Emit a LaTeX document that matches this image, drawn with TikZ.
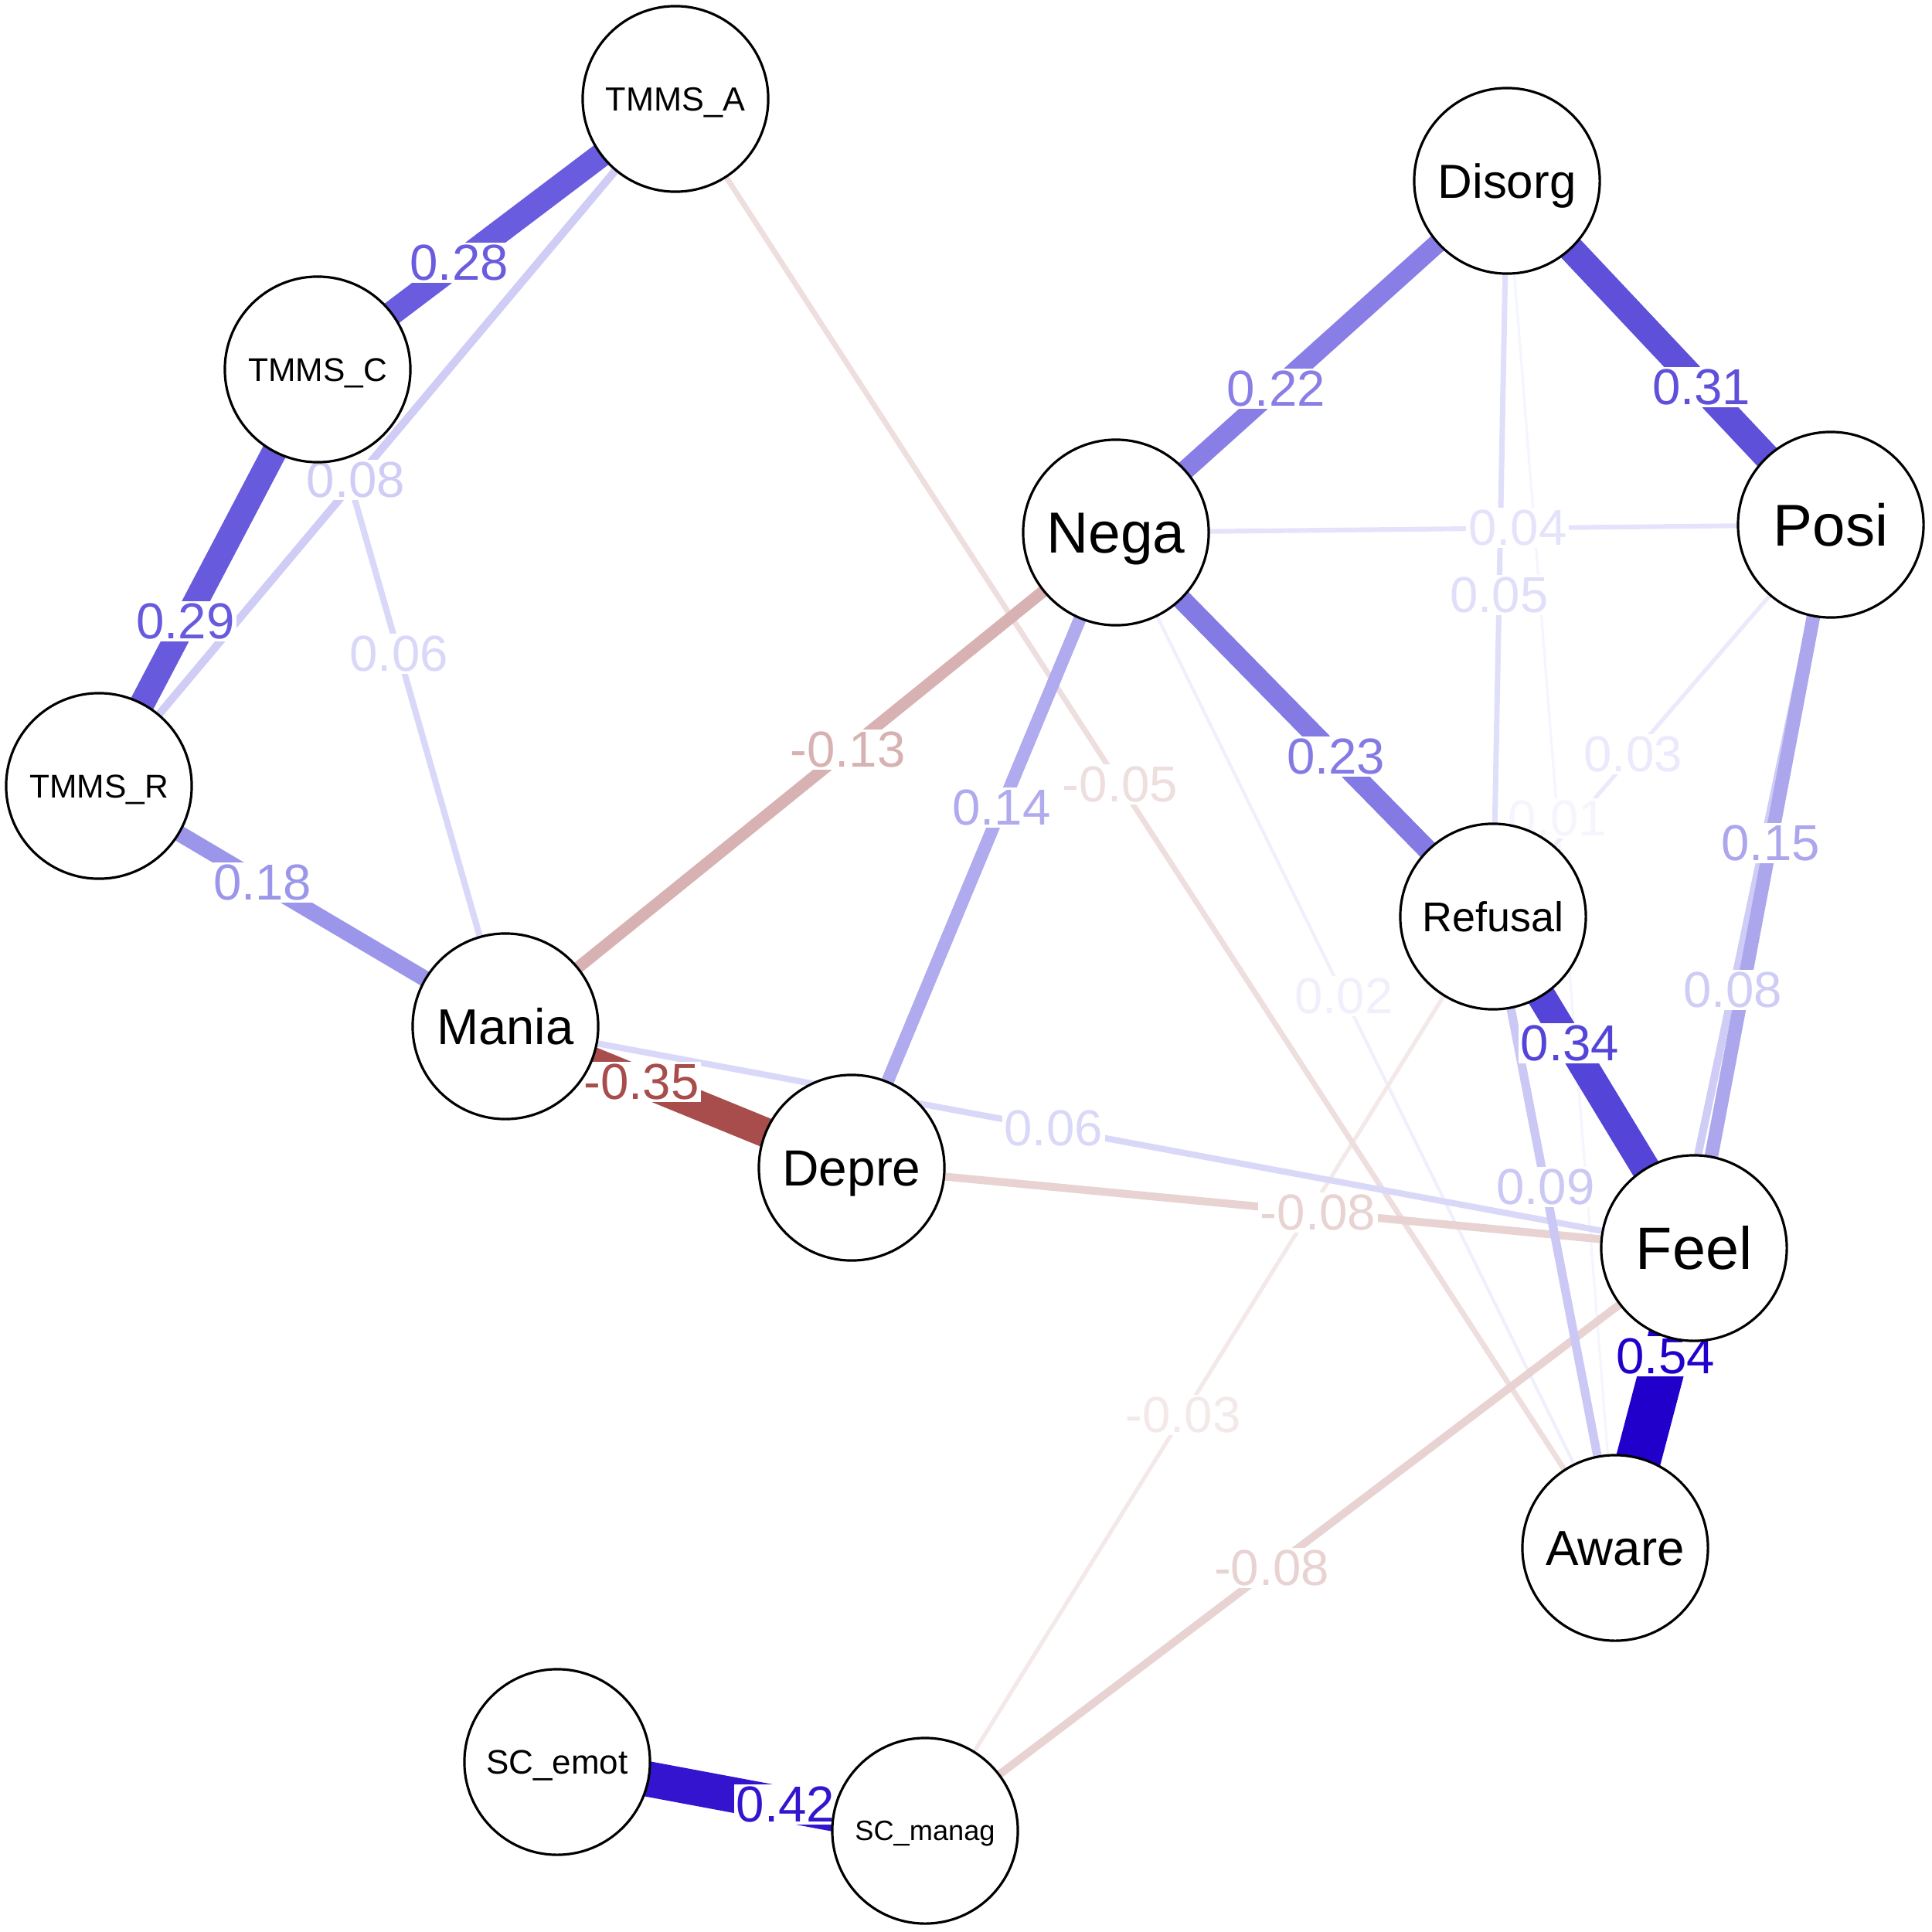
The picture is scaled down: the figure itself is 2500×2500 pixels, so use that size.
\documentclass[tikz,border=0pt]{standalone}
\usepackage{fontspec}
\setmainfont{Liberation Sans}
\pgfdeclarelayer{edges}
\pgfdeclarelayer{labels}
\pgfsetlayers{edges,labels,main}
% positive (blue) shades
\definecolor{c054}{RGB}{34,0,204}
\definecolor{c042}{RGB}{52,20,206}
\definecolor{c034}{RGB}{84,68,216}
\definecolor{c031}{RGB}{95,80,218}
\definecolor{c029}{RGB}{104,90,221}
\definecolor{c028}{RGB}{106,92,222}
\definecolor{c023}{RGB}{132,122,228}
\definecolor{c022}{RGB}{136,126,229}
\definecolor{c018}{RGB}{156,150,234}
\definecolor{c015}{RGB}{172,166,237}
\definecolor{c014}{RGB}{176,170,238}
\definecolor{c009}{RGB}{203,200,245}
\definecolor{c008}{RGB}{207,204,246}
\definecolor{c006}{RGB}{218,216,249}
\definecolor{c005}{RGB}{224,223,250}
\definecolor{c004}{RGB}{228,227,251}
\definecolor{c003}{RGB}{235,234,252}
\definecolor{c002}{RGB}{240,240,253}
\definecolor{c001}{RGB}{245,245,254}
% negative (red) shades
\definecolor{r035}{RGB}{168,76,76}
\definecolor{r013}{RGB}{216,178,178}
\definecolor{r008}{RGB}{232,210,210}
\definecolor{r005}{RGB}{238,222,222}
\definecolor{r003}{RGB}{243,233,233}
\tikzset{
  vnode/.style={circle, draw=black, line width=0.9pt, fill=white,
    minimum size=2.4cm, inner sep=0pt, font=\fontsize{#1}{#1}\selectfont},
  elabel/.style={fill=white, inner sep=0.8pt, font=\fontsize{18.6}{20}\selectfont},
}
\newcommand{\capbox}[1]{\raisebox{0pt}[0.716em][0pt]{#1}}
% from, to, width(pt), colour, pos, label
\newcommand{\myedge}[6]{%
  \begin{pgfonlayer}{edges}\draw[line width=#3pt, draw=#4] (#1.center) -- (#2.center);\end{pgfonlayer}%
  \begin{pgfonlayer}{labels}\path (#1) -- (#2) node[elabel, text=#4, pos=#5] {#6};\end{pgfonlayer}}
\begin{document}
\begin{tikzpicture}[x=0.01cm, y=-0.01cm]
\useasboundingbox (0,0) rectangle (2500,2500);
\node[vnode=12.3] (tmmsa)   at (874,128)   {\capbox{TMMS\_A}};
\node[vnode=12.1] (tmmsc)   at (411,478)   {\capbox{TMMS\_C}};
\node[vnode=12.1] (tmmsr)   at (128,1017)  {\capbox{TMMS\_R}};
\node[vnode=18.5] (mania)   at (654,1328)  {\capbox{Mania}};
\node[vnode=18.7] (depre)   at (1102,1511) {\capbox{Depre}};
\node[vnode=21.3] (nega)    at (1444,689)  {\capbox{Nega}};
\node[vnode=17.6] (disorg)  at (1950,234)  {\capbox{Disorg}};
\node[vnode=21.7] (posi)    at (2369,679)  {\capbox{Posi}};
\node[vnode=15.3] (refusal) at (1932,1186) {\capbox{Refusal}};
\node[vnode=22.0] (feel)    at (2192,1615) {\capbox{Feel}};
\node[vnode=18.1] (aware)   at (2090,2003) {\capbox{Aware}};
\node[vnode=12.5] (scemot)  at (721,2280)  {\capbox{SC\_emot}};
\node[vnode=10.3] (scmanag) at (1197,2369) {\capbox{SC\_manag}};

\myedge{disorg}{aware}{0.9}{c001}{0.461}{0.01}
\myedge{nega}{aware}{1.2}{c002}{0.448}{0.02}
\myedge{posi}{refusal}{1.5}{c003}{0.634}{0.03}
\myedge{refusal}{scmanag}{1.5}{r003}{0.555}{-0.03}
\myedge{nega}{posi}{1.75}{c004}{0.584}{0.04}
\myedge{disorg}{refusal}{2.0}{c005}{0.584}{0.05}
\myedge{tmmsa}{aware}{2.0}{r005}{0.47}{-0.05}
\myedge{tmmsc}{mania}{2.3}{c006}{0.407}{0.06}
\myedge{mania}{feel}{2.3}{c006}{0.454}{0.06}
\myedge{tmmsa}{tmmsr}{2.9}{c008}{0.569}{0.08}
\myedge{posi}{aware}{2.9}{c008}{0.445}{0.08}
\myedge{depre}{feel}{2.9}{r008}{0.569}{-0.08}
\myedge{feel}{scmanag}{2.9}{r008}{0.561}{-0.08}
\myedge{refusal}{aware}{3.2}{c009}{0.399}{0.09}
\myedge{mania}{nega}{4.4}{r013}{0.58}{-0.13}
\myedge{depre}{nega}{4.7}{c014}{0.592}{0.14}
\myedge{posi}{feel}{5.0}{c015}{0.419}{0.15}
\myedge{tmmsr}{mania}{5.9}{c018}{0.338}{0.18}
\myedge{nega}{disorg}{7.1}{c022}{0.359}{0.22}
\myedge{nega}{refusal}{7.4}{c023}{0.628}{0.23}
\myedge{tmmsa}{tmmsc}{8.9}{c028}{0.68}{0.28}
\myedge{tmmsc}{tmmsr}{9.2}{c029}{0.675}{0.29}
\myedge{disorg}{posi}{9.7}{c031}{0.667}{0.31}
\myedge{refusal}{feel}{10.6}{c034}{0.272}{0.34}
\myedge{mania}{depre}{10.9}{r035}{0.284}{-0.35}
\myedge{scemot}{scmanag}{13.0}{c042}{0.743}{0.42}
\myedge{feel}{aware}{16.6}{c054}{0.148}{0.54}
\end{tikzpicture}
\end{document}
